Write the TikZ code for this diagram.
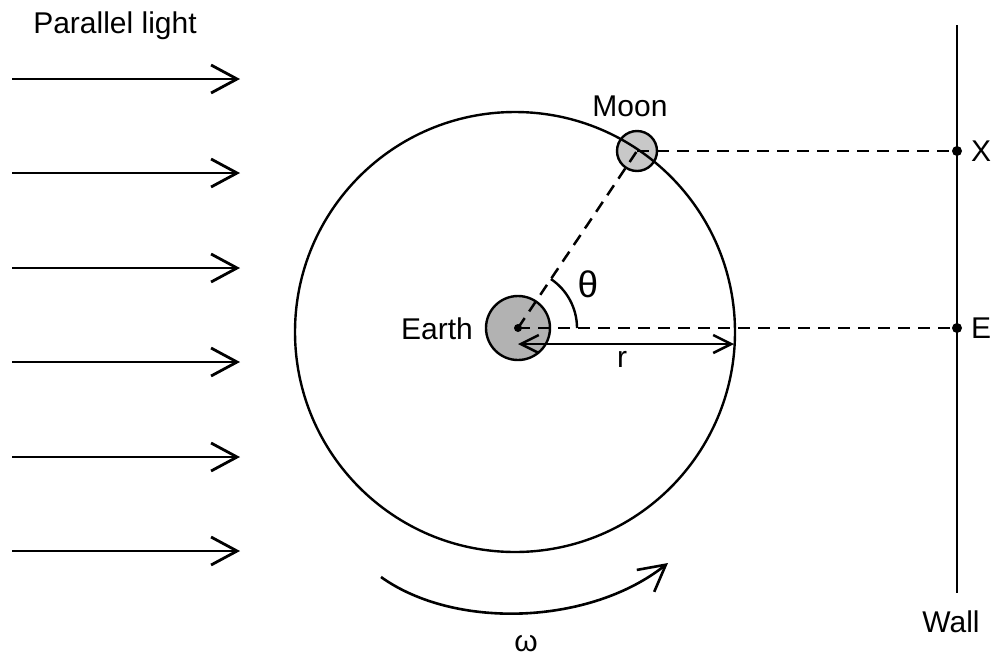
\documentclass[tikz,border=0pt]{standalone}
\usepackage{fontspec}
\setmainfont{Liberation Sans}
\usetikzlibrary{arrows.meta,calc}
\definecolor{earthgray}{RGB}{178,178,178}
\definecolor{moongray}{RGB}{200,200,200}
\begin{document}
\begin{tikzpicture}[x=1pt,y=-1pt,
  lbl/.style={font=\fontsize{30}{33}\selectfont, inner sep=0pt},
  ray/.style={line width=2.8pt, -{Straight Barb[length=26pt,width=28pt]}},
  rarrow/.style={line width=2.5pt, {Straight Barb[length=18pt,width=18pt]}-{Straight Barb[length=18pt,width=18pt]}},
  dashline/.style={line width=2.5pt, dash pattern=on 12pt off 8pt},
  orbit/.style={line width=2.4pt},
  body/.style={circle, draw, line width=2.4pt, inner sep=0pt},
  walldot/.style={fill=black}]
\useasboundingbox (0,0) rectangle (994,657);

% parallel light
\node[lbl] (pl) at (115,26) {Parallel light};
\foreach \i/\y in {1/79,2/173,3/268,4/362,5/457,6/551}{
  \coordinate (ls\i) at (12,\y);
  \coordinate (le\i) at (240,\y);
  \draw[ray] (ls\i) -- (le\i);
}

% bodies
\coordinate (O) at (515,332);
\node[body, fill=earthgray, minimum size=64pt] (earth) at (518,328) {};
\node[body, fill=moongray, minimum size=40pt] (moon) at (637,151) {};
\draw[orbit] (O) circle[radius=220];

% wall
\coordinate (walltop) at (957,25);
\coordinate (wallbot) at (957,593);
\draw[line width=2.8pt] (walltop) -- (wallbot);
\coordinate (X) at (957,151);
\coordinate (E) at (957,328);

% dashed lines
\draw[dashline] (earth.center) -- (moon.center);
\draw[dashline] (earth.center) -- (E);
\draw[dashline] (moon.center) -- (X);

% dots
\fill (earth.center) circle[radius=4];
\fill (X) circle[radius=5];
\fill (E) circle[radius=5];

% theta arc
\draw[line width=2.4pt] ($(earth.center)+(59,0)$) arc[start angle=0, end angle=-56.1, radius=59];

% r arrow
\coordinate (rL) at (518,344);
\coordinate (rR) at (734,344);
\draw[rarrow] (rL) -- (rR);

% omega arrow
\coordinate (w1) at (381,577);
\coordinate (w2) at (668,563);
\draw[ray, line width=2.6pt] (w1) .. controls (455,630) and (590,625) .. (w2);

% labels
\node[lbl] (moonlbl) at (630,106) {Moon};
\node[lbl] (earthlbl) at (437,329) {Earth};
\node[lbl, font=\fontsize{37}{40}\selectfont] (thetalbl) at (588,284) {θ};
\node[lbl] (rlbl) at (622,359) {r};
\node[lbl] (Xlbl) at (981,151) {X};
\node[lbl] (Elbl) at (981,328) {E};
\node[lbl] (walllbl) at (951,622) {Wall};
\node[lbl] (omegalbl) at (526,644) {ω};
\end{tikzpicture}
\end{document}
